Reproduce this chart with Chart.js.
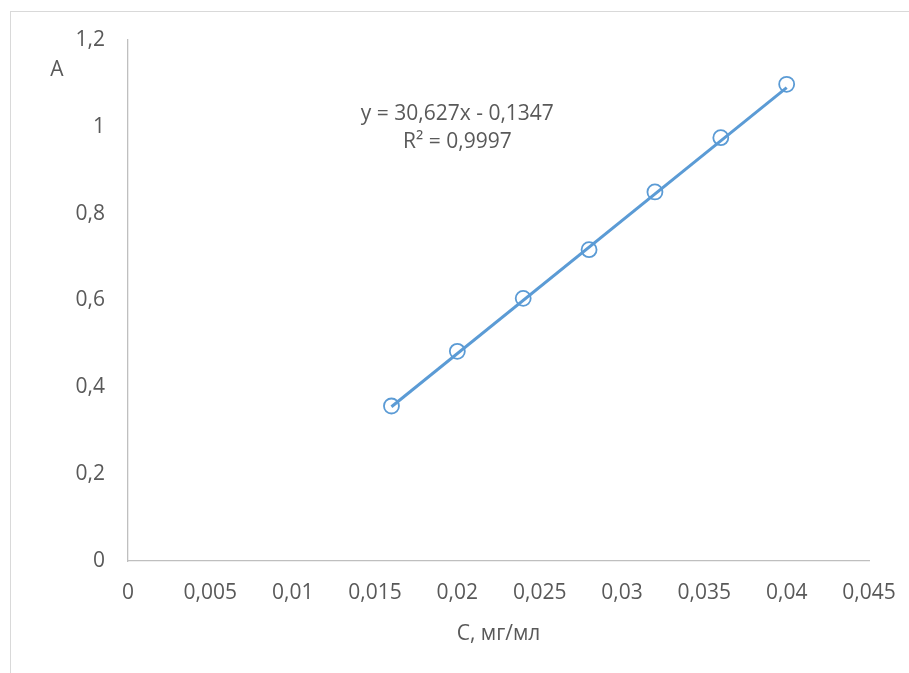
<!DOCTYPE html>
<html>
<head>
<meta charset="utf-8">
<script src="https://cdn.jsdelivr.net/npm/chart.js@4/dist/chart.umd.min.js"></script>
<style>
  html, body { margin: 0; padding: 0; background: #fff; overflow: hidden; }
  #frame { position: absolute; left: 10px; top: 11px; width: 1200px; height: 1000px;
           border: 1px solid #d9d9d9; box-sizing: border-box; }
  #c { position: absolute; left: 0; top: 0; }
</style>
</head>
<body>
<div id="frame"></div>
<canvas id="c" width="909" height="673"></canvas>
<script>
// Calibration series: concentration (mg/ml) vs absorbance
const concentration = [0.016, 0.020, 0.024, 0.028, 0.032, 0.036, 0.040];
const absorbance    = [0.357, 0.483, 0.605, 0.717, 0.850, 0.975, 1.098];

// Linear fit reported on the chart
const slope = 30.627;
const intercept = -0.1347;
const rSquared = 0.9997;

const xTitle = 'С, мг/мл';
const yTitle = 'А';

const blue = '#5b9bd5';
const textGrey = '#595959';
const fontFamily = '"Open Sans", "Noto Sans", sans-serif';

const fmt = v => Number(v.toFixed(4)).toString().replace('.', ',');

const points = concentration.map((x, i) => ({ x, y: absorbance[i] }));
const xFirst = concentration[0];
const xLast = concentration[concentration.length - 1];
const trend = [
  { x: xFirst, y: slope * xFirst + intercept },
  { x: xLast,  y: slope * xLast + intercept }
];

const eqText = 'y = ' + fmt(slope) + 'x - ' + fmt(Math.abs(intercept));
const r2Text = 'R² = ' + fmt(rSquared);

// Axis titles and trendline equation
const annotations = {
  id: 'annotations',
  afterDraw(chart) {
    const { ctx, chartArea, scales } = chart;
    ctx.save();
    ctx.fillStyle = textGrey;
    ctx.font = '21px ' + fontFamily;
    ctx.textAlign = 'center';
    ctx.textBaseline = 'middle';
    ctx.fillText(yTitle, 57, 70);
    ctx.fillText(xTitle, (chartArea.left + chartArea.right) / 2, 634);
    const ex = scales.x.getPixelForValue(0.0200);
    const ey = scales.y.getPixelForValue(1.030);
    ctx.fillText(eqText, ex, ey);
    ctx.fillText(r2Text, ex, ey + 28);
    ctx.restore();
  }
};

new Chart(document.getElementById('c'), {
  type: 'scatter',
  data: {
    datasets: [
      {
        label: 'trend',
        data: trend,
        showLine: true,
        borderColor: blue,
        borderWidth: 3,
        pointRadius: 0,
        order: 0
      },
      {
        label: 'A',
        data: points,
        showLine: false,
        pointStyle: 'circle',
        pointRadius: 7.5,
        pointBorderWidth: 1.8,
        pointBorderColor: blue,
        pointBackgroundColor: 'rgba(0,0,0,0)',
        order: 1
      }
    ]
  },
  options: {
    responsive: false,
    animation: false,
    layout: { padding: { left: 0, top: 40, right: 40, bottom: 0 } },
    plugins: { legend: { display: false }, tooltip: { enabled: false } },
    scales: {
      x: {
        type: 'linear',
        min: 0, max: 0.045,
        grid: { display: false, drawTicks: false },
        border: { display: true, color: '#bfbfbf', width: 1.3 },
        ticks: {
          stepSize: 0.005,
          padding: 19,
          color: textGrey,
          font: { family: fontFamily, size: 21 },
          callback: v => fmt(v)
        },
        afterFit: s => { s.height = 112; s.paddingLeft = 0; s.paddingRight = 0; }
      },
      y: {
        type: 'linear',
        min: 0, max: 1.2,
        grid: { display: false, drawTicks: false },
        border: { display: true, color: '#bfbfbf', width: 1.3 },
        ticks: {
          stepSize: 0.2,
          padding: 23,
          color: textGrey,
          font: { family: fontFamily, size: 21 },
          callback: v => fmt(v)
        },
        afterFit: s => { s.width = 128; s.paddingTop = 0; s.paddingBottom = 0; }
      }
    }
  },
  plugins: [annotations]
});
</script>
</body>
</html>
